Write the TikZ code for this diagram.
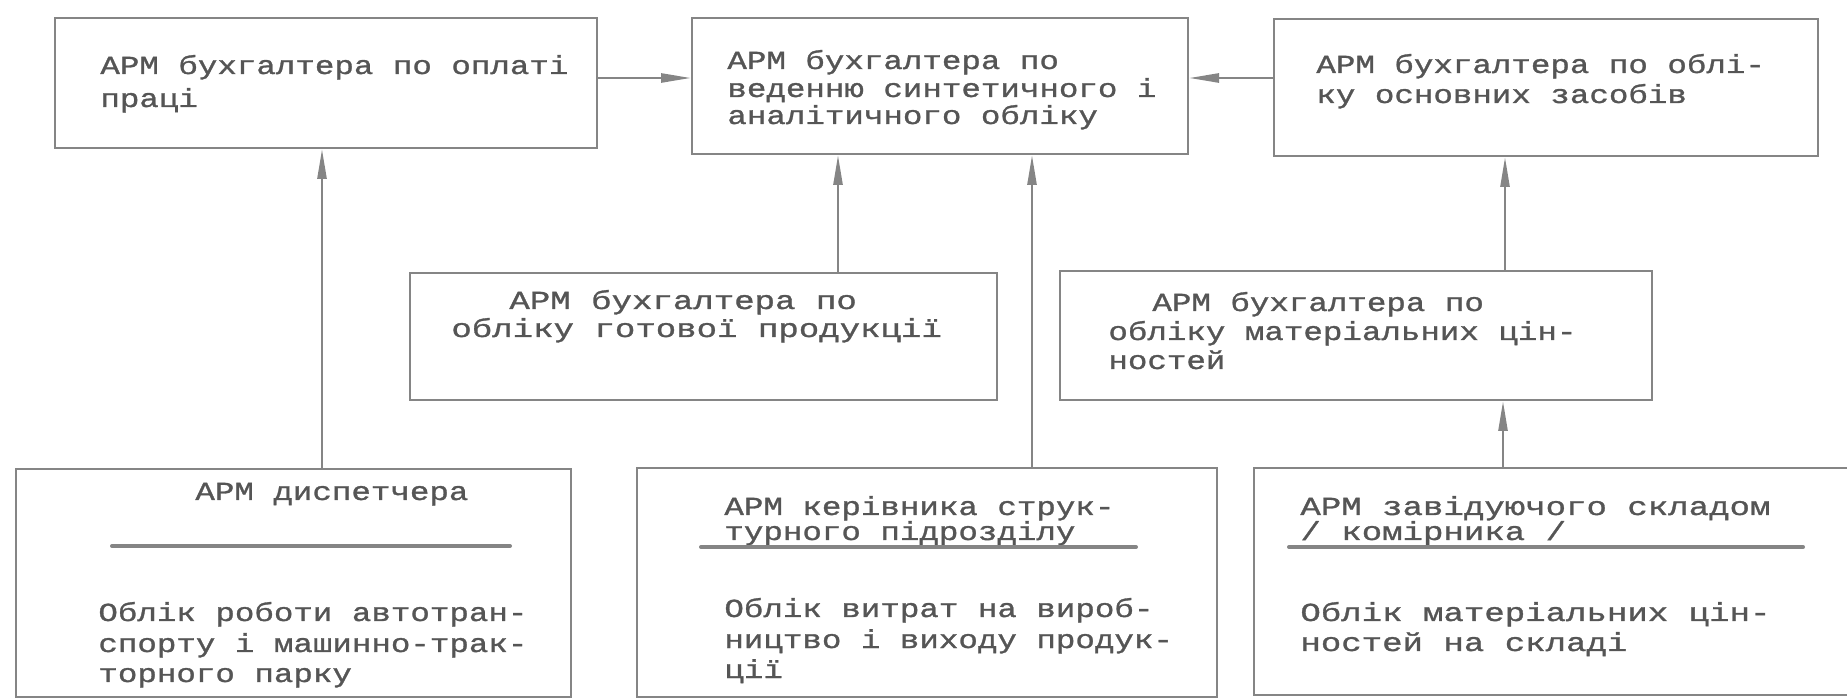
\documentclass[tikz,border=0pt]{standalone}
\usepackage{fontspec}
\newfontfamily\tw[FakeStretch=1.25,FakeBold=1.2]{Liberation Mono}
\newfontfamily\twb[FakeStretch=1.31,FakeBold=1.2]{Liberation Mono}
\usetikzlibrary{arrows.meta}
\definecolor{lineg}{HTML}{858585}
\definecolor{textg}{HTML}{555555}
\tikzset{
  box/.style={draw=lineg, line width=1pt, inner sep=0pt},
  txt/.style={anchor=base west, inner sep=0pt, text=textg, font=\tw\fontsize{13}{15}\selectfont},
  txtb/.style={anchor=base west, inner sep=0pt, text=textg, font=\twb\fontsize{13}{15}\selectfont},
  arr/.style={draw=lineg, line width=1.3pt, -{Triangle[length=15pt,width=4.5pt]}},
  sep/.style={draw=lineg, line width=2pt, line cap=round}
}
\begin{document}
\begin{tikzpicture}[x=0.5pt,y=-0.5pt]
\clip (0,0) rectangle (1847,699);
\fill[white] (0,0) rectangle (1847,699);
% boxes
\node[box, minimum width=271pt, minimum height=65pt] (TL) at (326,83) {};
\node[box, minimum width=248pt, minimum height=68pt] (TC) at (940,86) {};
\node[box, minimum width=272pt, minimum height=68.5pt] (TR) at (1546,87.5) {};
\node[box, minimum width=293.5pt, minimum height=63.5pt] (ML) at (703.5,336.5) {};
\node[box, minimum width=296pt, minimum height=64.5pt] (MR) at (1356,335.5) {};
\node[box, minimum width=277.5pt, minimum height=114pt] (BL) at (293.5,583) {};
\node[box, minimum width=290pt, minimum height=114.5pt] (BC) at (927,582.5) {};
\node[box, minimum width=303pt, minimum height=113.5pt] (BR) at (1557,581.5) {};
% texts
\node[txt] (tl1) at (100,74) {АРМ бухгалтера по оплаті};
\node[txt] (tl2) at (100,107) {праці};
\node[txt] (tc1) at (727,69) {АРМ бухгалтера по};
\node[txt] (tc2) at (727,97) {веденню синтетичного і};
\node[txt] (tc3) at (727,124) {аналітичного обліку};
\node[txt] (tr1) at (1316,73) {АРМ бухгалтера по облі-};
\node[txt] (tr2) at (1316,103) {ку основних засобів};
\node[txtb] (ml1) at (509,309) {АРМ бухгалтера по};
\node[txtb] (ml2) at (451,337) {обліку готової продукції};
\node[txt] (mr1) at (1152,311) {АРМ бухгалтера по};
\node[txt] (mr2) at (1108,340) {обліку матеріальних цін-};
\node[txt] (mr3) at (1108,369) {ностей};
\node[txt] (bl0) at (195,500) {АРМ диспетчера};
\node[txt] (bl1) at (98,621) {Облік роботи автотран-};
\node[txt] (bl2) at (98,652) {спорту і машинно-трак-};
\node[txt] (bl3) at (98,682) {торного парку};
\node[txt] (bc0) at (724,515) {АРМ керівника струк-};
\node[txt] (bc0b) at (724,540) {турного підрозділу};
\node[txt] (bc1) at (724,617) {Облік витрат на вироб-};
\node[txt] (bc2) at (724,648) {ництво і виходу продук-};
\node[txt] (bc3) at (724,678) {ції};
\node[txtb] (br0) at (1300,515) {АРМ завідуючого складом};
\node[txtb] (br0b) at (1300,540) {/ комірника /};
\node[txtb] (br1) at (1300,621) {Облік матеріальних цін-};
\node[txtb] (br2) at (1300,651) {ностей на складі};
% separators
\coordinate (s1a) at (112,546); \coordinate (s1b) at (510,546);
\coordinate (s2a) at (701,547); \coordinate (s2b) at (1136,547);
\coordinate (s3a) at (1289,547); \coordinate (s3b) at (1803,547);
\draw[sep] (s1a) -- (s1b);
\draw[sep] (s2a) -- (s2b);
\draw[sep] (s3a) -- (s3b);
% connector columns / rows
\coordinate (x1) at (322,0);
\coordinate (x2) at (838,0);
\coordinate (x3) at (1032,0);
\coordinate (x4) at (1505,0);
\coordinate (x5) at (1503,0);
\coordinate (y1) at (0,78);
\draw[arr] (BL.north -| x1) -- (TL.south -| x1);
\draw[arr] (ML.north -| x2) -- (TC.south -| x2);
\draw[arr] (BC.north -| x3) -- (TC.south -| x3);
\draw[arr] (MR.north -| x4) -- (TR.south -| x4);
\draw[arr] (BR.north -| x5) -- (MR.south -| x5);
\draw[arr] (TL.east |- y1) -- (TC.west |- y1);
\draw[arr] (TR.west |- y1) -- (TC.east |- y1);
\end{tikzpicture}
\end{document}
